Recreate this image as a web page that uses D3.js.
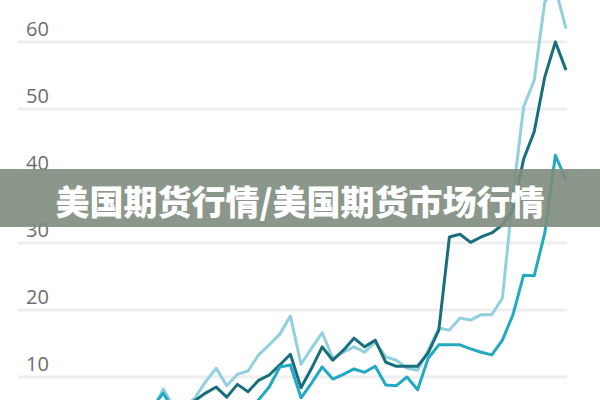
<!DOCTYPE html>
<html>
<head>
<meta charset="utf-8">
<script src="https://cdn.jsdelivr.net/npm/d3@7"></script>
<style>
  html, body { margin: 0; padding: 0; background: #fff; }
  svg { display: block; }
</style>
</head>
<body>
<svg id="chart" width="600" height="400"></svg>
<script>
// ---- data ----
const title = "美国期货行情/美国期货市场行情";
const yTicks = [10, 20, 30, 40, 50, 60];
const periods = d3.range(41); // period index
const seriesDark = [5, 5, 6, 5, 5, 6.5, 7.6, 8.5, 7.0, 8.9, 7.8, 9.5, 10.3, 11.8, 13.4, 8.4, 11.3, 14.5, 12.5, 14.0,
  15.8, 14.5, 15.5, 12.2, 11.6, 11.6, 11.6, 13.6, 17.0, 30.9, 31.3, 30.1, 30.9, 31.5, 32.7, 34.9, 42.5, 46.6, 54.8, 60.0, 55.8];
const seriesLight = [5, 5, 8.2, 5.5, 5.5, 6.9, 9.3, 11.3, 8.7, 10.4, 10.9, 13.3, 14.8, 16.4, 19.1, 11.9, 14.3, 16.6, 12.8, 13.7,
  14.5, 13.7, 15.2, 13.0, 12.5, 11.3, 11.0, 14.0, 17.3, 17.0, 18.8, 18.5, 19.3, 19.3, 21.8, 37.2, 50.3, 54.3, 66, 68, 62];
const seriesCyan = [5, 5.5, 7.6, 5, 5, 5, 5, 5, 5, 5, 5, 6.6, 8.5, 11.5, 11.8, 6.9, 9.1, 11.5, 9.7, 10.4,
  11.2, 10.7, 11.6, 8.8, 8.7, 10.0, 8.1, 12.8, 14.8, 14.8, 14.8, 14.2, 13.7, 13.3, 15.5, 19.3, 25.2, 25.1, 31.5, 43.1, 39.4];

// ---- chart ----
const svg = d3.select("#chart");
const x = d3.scaleLinear().domain([0, 40]).range([142, 566]);
const y = d3.scaleLinear().domain([10, 60]).range([377, 42]);

// gridlines
svg.append("g").selectAll("line").data(yTicks).join("line")
  .attr("x1", 18).attr("x2", 567)
  .attr("y1", d => y(d)).attr("y2", d => y(d))
  .attr("stroke", "#eeeeee").attr("stroke-width", 3);

// tick labels
svg.append("g").selectAll("text").data(yTicks).join("text")
  .attr("x", 26).attr("y", d => y(d) - 6)
  .attr("font-family", "'Open Sans', 'DejaVu Sans', sans-serif")
  .attr("font-size", 20)
  .attr("fill", "#6e6e6e")
  .text(d => d);

const line = d3.line().x((d, i) => x(periods[i])).y(d => y(d));
const series = [
  { values: seriesLight, color: "#92d0de" },
  { values: seriesDark, color: "#186f7b" },
  { values: seriesCyan, color: "#22aac2" }
];
svg.append("g").selectAll("path").data(series).join("path")
  .attr("d", d => line(d.values))
  .attr("fill", "none")
  .attr("stroke", d => d.color)
  .attr("stroke-width", 3)
  .attr("stroke-linejoin", "round");

// banner
svg.append("rect")
  .attr("x", 0).attr("y", 169).attr("width", 600).attr("height", 58)
  .attr("fill", "#808c7f").attr("opacity", 0.9);
svg.append("text")
  .attr("x", 300).attr("y", 215)
  .attr("text-anchor", "middle")
  .attr("font-family", "'Noto Sans CJK SC', sans-serif")
  .attr("font-weight", 900)
  .attr("font-size", 34)
  .attr("fill", "#ffffff")
  .text(title);
</script>
</body>
</html>
